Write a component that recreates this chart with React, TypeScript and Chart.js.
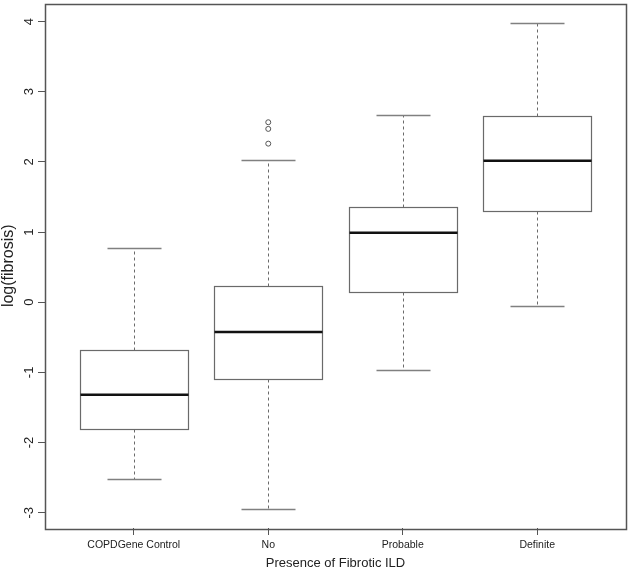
import React, { useEffect, useRef } from 'react';
import { Chart, registerables } from 'chart.js';

Chart.register(...registerables);

const categories = ['COPDGene Control', 'No', 'Probable', 'Definite'];
const whiskerLow = [-2.52, -2.94, -0.96, -0.05];
const q1 = [-1.81, -1.095, 0.15, 1.30];
const median = [-1.32, -0.425, 0.99, 2.015];
const q3 = [-0.683, 0.237, 1.356, 2.65];
const whiskerHigh = [0.78, 2.034, 2.674, 3.98];
const outlierCategory = [2, 2, 2];
const outlierValues = [2.565, 2.47, 2.26];
const yTicks = [-3, -2, -1, 0, 1, 2, 3, 4];

const FONT = '"Liberation Sans", Arial, Helvetica, sans-serif';

const boxPlugin = {
  id: 'rboxes',
  beforeDatasetsDraw(chart: any) {
    const { ctx, chartArea } = chart;
    const xs = chart.scales.x;
    const ys = chart.scales.y;
    ctx.save();
    const snap = (v: number) => Math.round(v) + 0.5;
    categories.forEach((_, i) => {
      const pos = i + 1;
      const cx = snap(xs.getPixelForValue(pos));
      const left = snap(xs.getPixelForValue(pos - 0.4));
      const right = snap(xs.getPixelForValue(pos + 0.4));
      const capL = snap(xs.getPixelForValue(pos - 0.2));
      const capR = snap(xs.getPixelForValue(pos + 0.2));
      const pLo = snap(ys.getPixelForValue(whiskerLow[i]));
      const pQ1 = snap(ys.getPixelForValue(q1[i]));
      const pMed = ys.getPixelForValue(median[i]);
      const pQ3 = snap(ys.getPixelForValue(q3[i]));
      const pHi = snap(ys.getPixelForValue(whiskerHigh[i]));

      ctx.lineWidth = 1;
      ctx.strokeStyle = '#6a6a6a';
      ctx.setLineDash([3, 3]);
      ctx.beginPath();
      ctx.moveTo(cx, pQ3);
      ctx.lineTo(cx, pHi);
      ctx.moveTo(cx, pQ1);
      ctx.lineTo(cx, pLo);
      ctx.stroke();
      ctx.setLineDash([]);
      ctx.strokeStyle = '#808080';
      ctx.lineWidth = 1.5;
      ctx.beginPath();
      ctx.moveTo(capL, pHi);
      ctx.lineTo(capR, pHi);
      ctx.moveTo(capL, pLo);
      ctx.lineTo(capR, pLo);
      ctx.stroke();
      ctx.lineWidth = 1.2;
      ctx.strokeStyle = '#6a6a6a';
      ctx.fillStyle = '#ffffff';
      ctx.fillRect(left, pQ3, right - left, pQ1 - pQ3);
      ctx.strokeRect(left, pQ3, right - left, pQ1 - pQ3);
      ctx.lineWidth = 2.5;
      ctx.strokeStyle = '#111111';
      ctx.beginPath();
      ctx.moveTo(left, pMed);
      ctx.lineTo(right, pMed);
      ctx.stroke();
    });
    ctx.lineWidth = 1.5;
    ctx.strokeStyle = '#555555';
    ctx.strokeRect(
      Math.round(chartArea.left) + 0.5,
      Math.round(chartArea.top) + 0.5,
      Math.round(chartArea.right - chartArea.left),
      Math.round(chartArea.bottom - chartArea.top)
    );
    ctx.restore();
  },
};

export default function App() {
  const ref = useRef<HTMLCanvasElement | null>(null);
  useEffect(() => {
    if (!ref.current) return;
    const chart = new Chart(ref.current, {
      type: 'scatter',
      data: {
        datasets: [
          {
            label: 'outliers',
            data: outlierValues.map((v, i) => ({ x: outlierCategory[i], y: v })),
            pointStyle: 'circle',
            pointRadius: 2.5,
            pointBorderWidth: 1,
            borderColor: '#555555',
            backgroundColor: 'rgba(255,255,255,1)',
            pointHoverRadius: 2.5,
          },
        ],
      },
      options: {
        responsive: false,
        animation: false,
        devicePixelRatio: 1,
        layout: { padding: { top: 3, right: 4, left: 0, bottom: 0 } },
        plugins: {
          legend: { display: false },
          tooltip: { enabled: false },
        },
        scales: {
          x: {
            type: 'linear',
            min: 0.34,
            max: 4.66,
            afterBuildTicks: (s: any) => {
              s.ticks = categories.map((_, i) => ({ value: i + 1 }));
            },
            afterFit: (s: any) => {
              s.height = 44;
              s.paddingLeft = 0;
              s.paddingRight = 0;
            },
            border: { display: false },
            grid: {
              drawOnChartArea: false,
              drawTicks: true,
              tickLength: 7,
              tickColor: '#555555',
              lineWidth: 1,
            },
            ticks: {
              autoSkip: false,
              maxRotation: 0,
              minRotation: 0,
              padding: 4,
              color: '#222222',
              font: { family: FONT, size: 10.5 },
              callback: (v: any) => categories[Math.round(Number(v)) - 1] ?? '',
            },
            title: {
              display: true,
              text: 'Presence of Fibrotic ILD',
              color: '#222222',
              font: { family: FONT, size: 13 },
              padding: { top: 0, bottom: 0.5 },
            },
          },
          y: {
            type: 'linear',
            min: -3.217,
            max: 4.257,
            afterBuildTicks: (s: any) => {
              s.ticks = yTicks.map((v) => ({ value: v }));
            },
            afterFit: (s: any) => {
              s.width = 45;
              s.paddingTop = 0;
              s.paddingBottom = 0;
            },
            border: { display: false },
            grid: {
              drawOnChartArea: false,
              drawTicks: true,
              tickLength: 7,
              tickColor: '#555555',
              lineWidth: 1,
            },
            ticks: {
              autoSkip: false,
              minRotation: 90,
              maxRotation: 90,
              crossAlign: 'center',
              padding: 3,
              color: '#222222',
              font: { family: FONT, size: 13 },
              callback: (v: any) => String(v),
            },
            title: {
              display: true,
              text: 'log(fibrosis)',
              color: '#222222',
              font: { family: FONT, size: 16 },
              padding: { top: -1, bottom: 0 },
            },
          },
        },
      },
      plugins: [boxPlugin],
    });
    return () => chart.destroy();
  }, []);
  return (
    <div style={{ position: 'absolute', left: 0, top: 0, width: 630, height: 572, background: '#fff' }}>
      <canvas ref={ref} width={630} height={572} style={{ display: 'block' }} />
    </div>
  );
}
